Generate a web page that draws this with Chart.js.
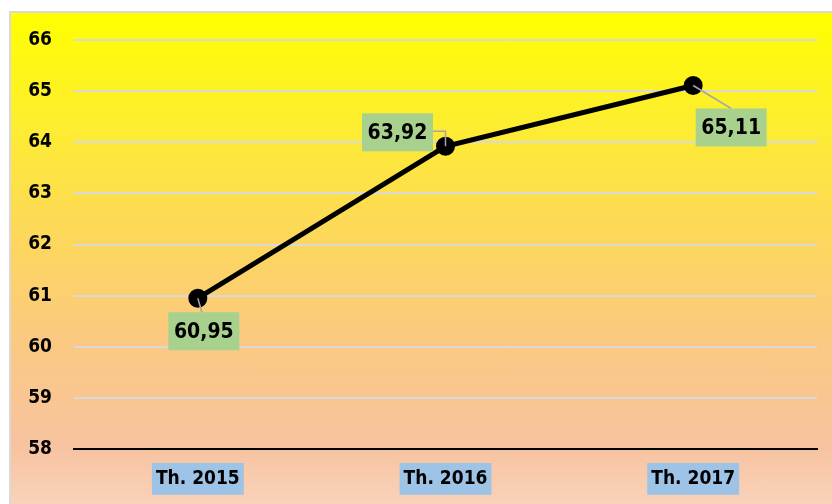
<!DOCTYPE html>
<html>
<head>
<meta charset="utf-8">
<script src="https://cdn.jsdelivr.net/npm/chart.js@4.4.0/dist/chart.umd.min.js"></script>
<style>
  body { margin: 0; background: #fff; }
  #wrap {
    position: absolute; left: 9px; top: 11px; width: 823px; height: 493px;
    border-left: 2px solid #d9d9d9; border-top: 2px solid #d9d9d9;
    background: linear-gradient(to bottom, #ffff00 0%, #fdeb35 25%, #fdda55 42%, #fbc981 66%, #f7c3a0 88%, #f9d3bb 100%);
  }
</style>
</head>
<body>
<div id="wrap"><canvas id="myChart"></canvas></div>
<script>
const labels = ['Th. 2015', 'Th. 2016', 'Th. 2017'];
const values = [60.95, 63.92, 65.11];
const valueText = ['60,95', '63,92', '65,11'];

const FONT = "'Liberation Sans Narrow', 'DejaVu Sans Condensed', sans-serif";

// green value boxes beside each point
const valueBoxes = {
    id: 'valueBoxes',
    afterDatasetsDraw(chart) {
        const ctx = chart.ctx;
        const pts = chart.getDatasetMeta(0).data;
        const offs = [[6, 33], [-48, -14], [38, 42]];
        ctx.save();
        ctx.font = "bold 21px " + FONT;
        ctx.textAlign = 'center';
        ctx.textBaseline = 'middle';
        pts.forEach((p, i) => {
            const cx = p.x + offs[i][0], cy = p.y + offs[i][1];
            const w = 71, h = 38;
            // leader line
            ctx.strokeStyle = '#a6a6a6';
            ctx.lineWidth = 1.5;
            ctx.beginPath();
            if (i === 1) {
                ctx.moveTo(cx + w / 2, cy - 1);
                ctx.lineTo(p.x, cy - 1);
                ctx.lineTo(p.x, p.y);
            } else if (i === 0) {
                ctx.moveTo(p.x, p.y);
                ctx.lineTo(p.x + 4, cy - h / 2);
            } else {
                ctx.moveTo(p.x, p.y);
                ctx.lineTo(cx, cy - h / 2);
            }
            ctx.stroke();
            ctx.fillStyle = '#a9d18e';
            ctx.fillRect(cx - w / 2, cy - h / 2, w, h);
            ctx.fillStyle = '#000';
            ctx.fillText(valueText[i], cx, cy + 1);
        });
        ctx.restore();
    }
};

const ctx = document.getElementById('myChart').getContext('2d');
const myChart = new Chart(ctx, {
    type: 'line',
    data: {
        labels: labels,
        datasets: [{
            data: values,
            borderColor: '#000',
            borderWidth: 5,
            backgroundColor: '#000',
            pointRadius: 7,
            pointHoverRadius: 7,
            tension: 0
        }]
    },
    options: {
        responsive: true,
        maintainAspectRatio: false,
        animation: false,
        layout: { padding: { top: 27, right: 17, left: 0, bottom: 0 } },
        plugins: { legend: { display: false }, tooltip: { enabled: false } },
        scales: {
            x: {
                offset: true,
                afterFit(scale) { scale.height = 57; },
                grid: { display: false, offset: true },
                border: { color: '#000', width: 2 },
                ticks: {
                    color: '#000',
                    font: { family: FONT, size: 19, weight: 'bold' },
                    padding: 11,
                    showLabelBackdrop: true,
                    backdropColor: '#9dc3e6',
                    backdropPadding: { left: 4, right: 4, top: 5, bottom: 4 }
                }
            },
            y: {
                min: 58,
                max: 66,
                afterFit(scale) {
                    scale.width = 63;
                    scale.paddingTop = 0;
                    scale.paddingBottom = 0;
                },
                grid: { color: '#d9d9d9', lineWidth: 2, drawTicks: false },
                border: { display: false },
                ticks: {
                    stepSize: 1,
                    color: '#000',
                    padding: 22,
                    font: { family: FONT, size: 19, weight: 'bold' }
                }
            }
        }
    },
    plugins: [valueBoxes]
});
</script>
</body>
</html>
